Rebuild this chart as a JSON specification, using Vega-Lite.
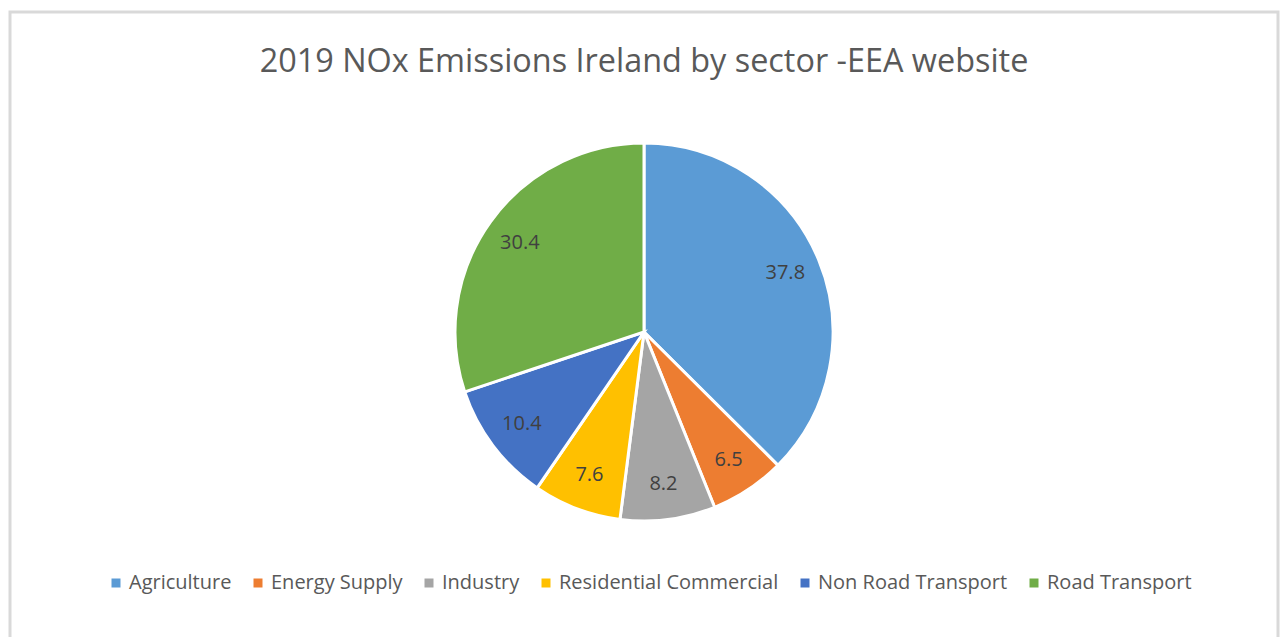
{
  "$schema": "https://vega.github.io/schema/vega-lite/v6.json",
  "autosize": "none",
  "width": 1268,
  "height": 640,
  "padding": {"left": 10, "top": 12, "right": 4, "bottom": 0},
  "background": "white",
  "view": {"stroke": "#D9D9D9", "strokeWidth": 3},
  "title": {
    "text": "2019 NOx Emissions Ireland by sector -EEA website",
    "font": "Open Sans",
    "fontSize": 32.4,
    "fontWeight": "normal",
    "color": "#595959",
    "anchor": "middle",
    "offset": -66
  },
  "data": {
    "values": [
      {"sector": "Agriculture", "value": 37.8, "order": 1},
      {"sector": "Energy Supply", "value": 6.5, "order": 2},
      {"sector": "Industry", "value": 8.2, "order": 3},
      {"sector": "Residential Commercial", "value": 7.6, "order": 4},
      {"sector": "Non Road Transport", "value": 10.4, "order": 5},
      {"sector": "Road Transport", "value": 30.4, "order": 6}
    ]
  },
  "encoding": {
    "theta": {"field": "value", "type": "quantitative", "stack": true},
    "order": {"field": "order", "type": "quantitative"},
    "color": {
      "field": "sector",
      "type": "nominal",
      "sort": ["Agriculture", "Energy Supply", "Industry", "Residential Commercial", "Non Road Transport", "Road Transport"],
      "scale": {
        "domain": ["Agriculture", "Energy Supply", "Industry", "Residential Commercial", "Non Road Transport", "Road Transport"],
        "range": ["#5B9BD5", "#ED7D31", "#A5A5A5", "#FFC000", "#4472C4", "#70AD47"]
      },
      "legend": {
        "title": null,
        "orient": "none",
        "direction": "horizontal",
        "legendX": 96,
        "legendY": 561,
        "symbolType": "square",
        "symbolSize": 81,
        "symbolStrokeWidth": 0,
        "labelFont": "Open Sans",
        "labelFontSize": 20,
        "labelColor": "#595959",
        "labelOffset": 3,
        "columnPadding": 16,
        "labelLimit": 400
      }
    }
  },
  "layer": [
    {
      "mark": {"type": "arc", "outerRadius": 189, "stroke": "white", "strokeWidth": 3}
    },
    {
      "mark": {"type": "text", "radius": 153, "font": "Open Sans", "fontSize": 20, "fill": "#404040"},
      "encoding": {
        "text": {"field": "value", "type": "quantitative", "format": ".1f"},
        "color": {"value": "#404040"}
      }
    }
  ]
}
